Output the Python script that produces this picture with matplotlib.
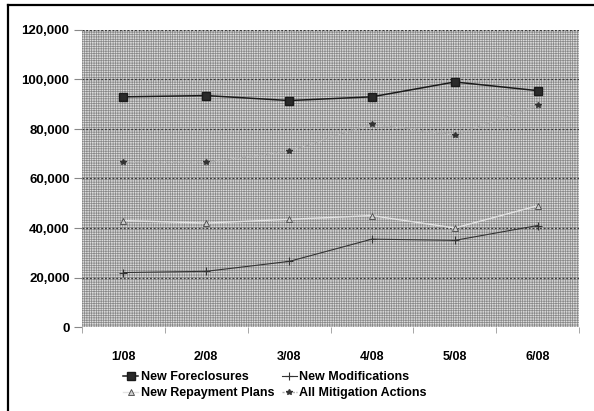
import matplotlib
matplotlib.use("Agg")
from matplotlib import pyplot as plt
from matplotlib.lines import Line2D
from matplotlib.patches import Rectangle
from matplotlib.ticker import FuncFormatter

months = ["1/08", "2/08", "3/08", "4/08", "5/08", "6/08"]
foreclosures = [93000, 93500, 91500, 93000, 99000, 95500]
modifications = [22000, 22500, 26500, 35500, 35000, 41000]
repayment = [43000, 42000, 43500, 45000, 40000, 49000]
mitigation = [66500, 66500, 71000, 82000, 77500, 89500]
yticks = [0, 20000, 40000, 60000, 80000, 100000, 120000]

plt.rcParams['font.family'] = ['Liberation Sans', 'DejaVu Sans']
plt.rcParams['font.weight'] = 'bold'
plt.rcParams['hatch.linewidth'] = 0.5
plt.rcParams['hatch.color'] = '#888888'

W, H = 594, 411
fig = plt.figure(figsize=(W / 100, H / 100), dpi=100)
ax = fig.add_axes([82 / W, 1 - 327 / H, (579 - 82) / W, (327 - 30) / H])

# dithered gray plot area
ax.set_facecolor('#dcdcdc')
ax.add_patch(Rectangle((0, 0), 1, 1, transform=ax.transAxes, facecolor='none',
                       edgecolor='#888888', linewidth=0, hatch='+++++++', zorder=0))
for s in ax.spines.values():
    s.set_visible(False)

x = list(range(len(months)))
ax.plot(x, mitigation, color='#b0b0b0', linestyle=(0, (1.5, 1)), linewidth=1.0,
        marker='*', markersize=4, markerfacecolor='#333', markeredgecolor='#333',
        label='All Mitigation Actions', zorder=3)
ax.plot(x, repayment, color='#e2e2e2', linewidth=1.0, marker='^', markersize=4,
        markerfacecolor='#cccccc', markeredgecolor='#444', markeredgewidth=0.6,
        label='New Repayment Plans', zorder=3)
ax.plot(x, modifications, color='#333', linewidth=0.8, marker='+', markersize=6,
        markeredgewidth=0.8, label='New Modifications', zorder=4)
ax.plot(x, foreclosures, color='#1a1a1a', linewidth=1.1, marker='s', markersize=6,
        markerfacecolor='#2a2a2a', markeredgecolor='#1a1a1a', label='New Foreclosures', zorder=5)

ax.set_xlim(-0.5, 5.5)
ax.set_ylim(0, 120000)
ax.set_yticks(yticks)
ax.yaxis.set_major_formatter(FuncFormatter(lambda v, p: f"{int(v):,}"))
ax.grid(axis='y', color='#3a3a3a', linestyle=(0, (1.5, 1.5)), linewidth=0.9, zorder=1)
ax.set_axisbelow(True)
ax.tick_params(axis='y', length=6, color='#888', labelsize=9.5, pad=3)
ax.set_xticks(x)
ax.set_xticklabels(months)
ax.set_xticks([i + 0.5 for i in range(-1, 6)], minor=True)
ax.tick_params(axis='x', which='major', length=0, labelsize=9, pad=17)
ax.tick_params(axis='x', which='minor', length=4, color='#999')

handles, labels = ax.get_legend_handles_labels()
order = [3, 1, 2, 0]
fig.legend([handles[i] for i in order], [labels[i] for i in order],
           loc='center', bbox_to_anchor=(275 / W, 1 - 385 / H), ncol=2,
           frameon=False, fontsize=9, handlelength=1.2, handletextpad=0.2,
           columnspacing=0.6, labelspacing=0.3, borderaxespad=0)

# outer frame (top and left edges)
fig.add_artist(Line2D([7.5 / W, 1], [1 - 5.5 / H, 1 - 5.5 / H], color='black',
                      linewidth=1.6, transform=fig.transFigure))
fig.add_artist(Line2D([7.5 / W, 7.5 / W], [1 - 5.5 / H, 1 - 410 / H], color='black',
                      linewidth=1.6, transform=fig.transFigure))

fig.savefig('out.png', dpi=100)
